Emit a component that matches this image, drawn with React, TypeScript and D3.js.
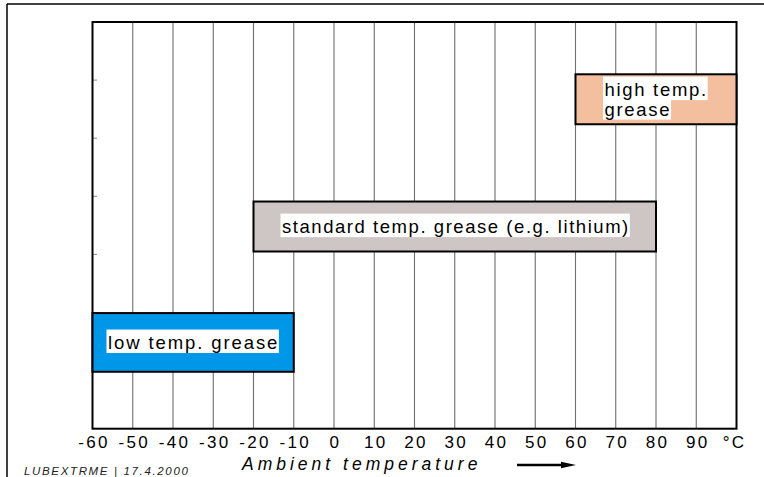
import React, { useEffect, useRef } from "react";
import * as d3 from "d3";

// ---- data ----
const categories = ["low temp. grease", "standard temp. grease (e.g. lithium)", "high temp.|grease"];
const rangeMin = [-60, -20, 60];
const rangeMax = [-10, 80, 100];
const bandBottom = [0.98, 3.05, 5.24];
const bandTop = [1.99, 3.91, 6.1];
const barColors = ["#0097e8", "#cec6c4", "#f3bf9e"];
const xTickValues = [-60, -50, -40, -30, -20, -10, 0, 10, 20, 30, 40, 50, 60, 70, 80, 90, 100];
const xTickLabels = ["-60", "-50", "-40", "-30", "-20", "-10", "0", "10", "20", "30", "40", "50", "60", "70", "80", "90", "°C"];
const yTickValues = [1, 2, 3, 4, 5, 6];
const axisTitle = "Ambient temperature";
const footer = "LUBEXTRME | 17.4.2000";

const W = 764;
const H = 477;
const FONT = "'Liberation Sans', Arial, Helvetica, sans-serif";

export default function App() {
  const ref = useRef<SVGSVGElement | null>(null);

  useEffect(() => {
    const svg = d3.select(ref.current);
    svg.selectAll("*").remove();

    const x = d3.scaleLinear().domain([-60, 100]).range([92.5, 736.5]);
    const y = d3.scaleLinear().domain([0, 7]).range([428.7, 22]);

    // outer frame (cut at right/bottom)
    svg.append("line").attr("x1", 7).attr("x2", 7).attr("y1", 4).attr("y2", H)
      .attr("stroke", "#000").attr("stroke-width", 1.5);
    svg.append("line").attr("x1", 7).attr("x2", W).attr("y1", 4).attr("y2", 4)
      .attr("stroke", "#000").attr("stroke-width", 1.5);

    // gridlines
    const inner = xTickValues.slice(1, -1);
    svg.append("g").selectAll("line").data(inner).join("line")
      .attr("x1", (d) => x(d)).attr("x2", (d) => x(d))
      .attr("y1", y(7)).attr("y2", y(0))
      .attr("stroke", "#6e6e6e").attr("stroke-width", 1.1);

    // y ticks (small inner marks)
    svg.append("g").selectAll("line").data(yTickValues).join("line")
      .attr("x1", x(-60)).attr("x2", x(-60) + 4.5)
      .attr("y1", (d) => y(d)).attr("y2", (d) => y(d))
      .attr("stroke", "#888").attr("stroke-width", 1);

    // plot frame
    svg.append("rect")
      .attr("x", x(-60)).attr("y", y(7))
      .attr("width", x(100) - x(-60)).attr("height", y(0) - y(7))
      .attr("fill", "none").attr("stroke", "#000").attr("stroke-width", 2);

    // bars
    const labelDx = [15.5, 28.5, 29];
    const labelLS = [1.9, 1.55, 1.7];
    categories.forEach((cat, i) => {
      const x0 = x(rangeMin[i]);
      const x1 = x(rangeMax[i]);
      const yT = y(bandTop[i]);
      const yB = y(bandBottom[i]);
      svg.append("rect")
        .attr("x", x0).attr("y", yT).attr("width", x1 - x0).attr("height", yB - yT)
        .attr("fill", barColors[i]).attr("stroke", "#000").attr("stroke-width", 2);

      const LS = labelLS[i];
      const lines = cat.split("|");
      const lh = 19.5;
      const cy = (yT + yB) / 2;
      const firstBase = cy + 6.6 - ((lines.length - 1) * lh) / 2;
      const bg = svg.append("g");
      const fg = svg.append("g");
      lines.forEach((ln, k) => {
        const bx = x0 + labelDx[i];
        const base = firstBase + k * lh;
        const rect = bg.append("rect").attr("fill", "#fff");
        const t = fg.append("text")
          .attr("x", bx).attr("y", base)
          .attr("font-family", FONT).attr("font-size", 18.5)
          .attr("letter-spacing", LS)
          .attr("fill", "#000")
          .text(ln);
        const len = (t.node() as SVGTextElement).getComputedTextLength() - LS;
        rect.attr("x", bx - 1.5).attr("y", base - 19.5)
          .attr("width", len + 3).attr("height", 23.5);
      });
    });

    // x tick labels
    svg.append("g").selectAll("text").data(xTickValues).join("text")
      .attr("x", (d, i) => x(d) + (i === xTickValues.length - 1 ? -2 : 1.5)).attr("y", 448.3)
      .attr("text-anchor", "middle")
      .attr("font-family", FONT).attr("font-size", 17)
      .attr("letter-spacing", 2.3)
      .attr("fill", "#000")
      .text((d, i) => xTickLabels[i]);

    // axis title
    svg.append("text")
      .attr("x", 242).attr("y", 469.5)
      .attr("font-family", FONT).attr("font-size", 17.5).attr("font-style", "italic")
      .attr("letter-spacing", 4.0)
      .attr("fill", "#000")
      .text(axisTitle);

    // arrow
    svg.append("line").attr("x1", 517).attr("x2", 564).attr("y1", 465).attr("y2", 465)
      .attr("stroke", "#000").attr("stroke-width", 2.5);
    svg.append("path").attr("d", "M561,461.8 L576,465 L561,468.2 Z").attr("fill", "#000");

    // footer
    svg.append("text")
      .attr("x", 24).attr("y", 475)
      .attr("font-family", FONT).attr("font-size", 11.5).attr("font-style", "italic")
      .attr("letter-spacing", 1.65)
      .attr("fill", "#222")
      .text(footer);
  }, []);

  return (
    <svg
      ref={ref}
      width={W}
      height={H}
      style={{ position: "fixed", left: 0, top: 0, background: "#fff" }}
    />
  );
}
